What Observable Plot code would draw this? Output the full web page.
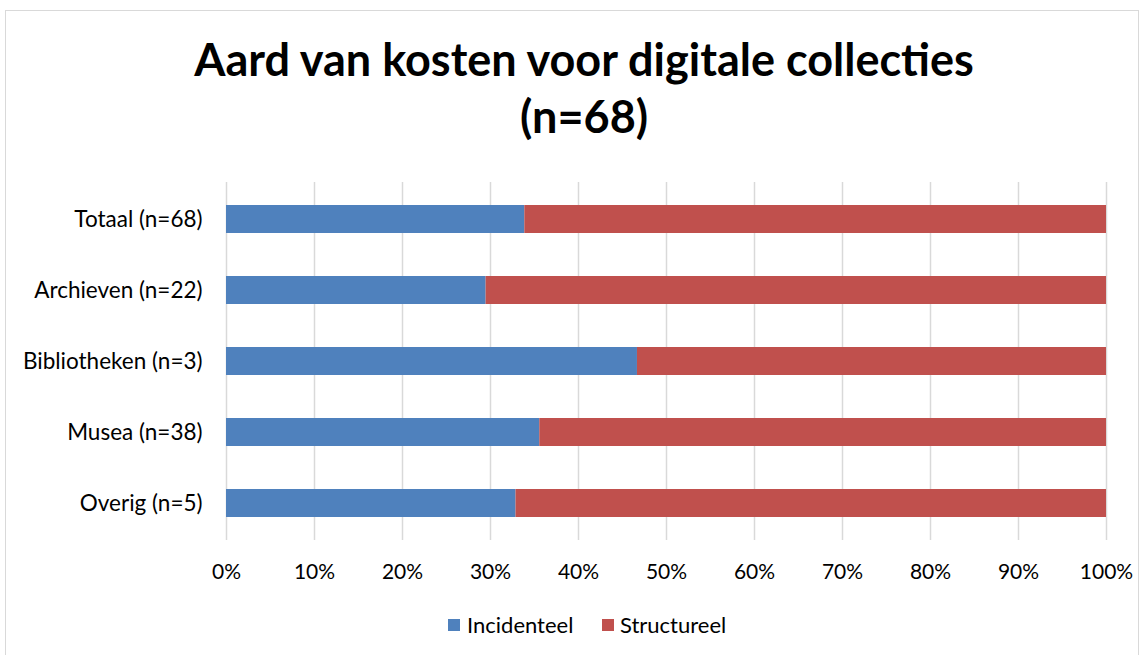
<!DOCTYPE html>
<html><head><meta charset="utf-8">
<script src="https://cdn.jsdelivr.net/npm/d3@7"></script>
<script src="https://cdn.jsdelivr.net/npm/@observablehq/plot@0.6"></script>
<style>
body{margin:0;background:#fff;font-family:Lato, sans-serif;}
#wrap{position:relative;width:1148px;height:655px;overflow:hidden;}
#frame{position:absolute;left:5px;top:10px;width:1134px;height:660px;border:1.5px solid #d9d9d9;box-sizing:border-box;}
#title{position:absolute;left:0;width:1168px;top:31px;text-align:center;font-weight:bold;font-size:45px;line-height:57px;color:#000;}
#chart{position:absolute;left:0;top:170px;}
.sw{position:absolute;width:12px;height:12px;top:619px;}
.lt{position:absolute;top:612px;font-size:22px;line-height:26px;color:#000;}
</style></head>
<body>
<div id="wrap">
<div id="frame"></div>
<div id="title">Aard van kosten voor digitale collecties<br>(n=68)</div>
<div id="chart"></div>
<div id="legend"></div>
</div>
<script>
const categories = ["Totaal (n=68)", "Archieven (n=22)", "Bibliotheken (n=3)", "Musea (n=38)", "Overig (n=5)"];
const seriesNames = ["Incidenteel", "Structureel"];
const seriesColors = ["#4F81BD", "#C0504D"];
const incidenteel = [33.9, 29.5, 46.7, 35.6, 32.9];
const structureel = [66.1, 70.5, 53.3, 64.4, 67.1];
const xTicks = [0, 10, 20, 30, 40, 50, 60, 70, 80, 90, 100];

const rows = [];
categories.forEach((c, i) => {
  rows.push({cat: c, series: seriesNames[0], value: incidenteel[i]});
  rows.push({cat: c, series: seriesNames[1], value: structureel[i]});
});

const chart = Plot.plot({
  width: 1148, height: 420,
  marginTop: 12, marginBottom: 50, marginLeft: 226, marginRight: 42,
  style: {fontFamily: "Lato, sans-serif", fontSize: "21px", color: "#000", background: "transparent"},
  x: {domain: [0, 100], label: null},
  y: {domain: categories, label: null, paddingInner: 0.6, paddingOuter: 0.3},
  color: {domain: seriesNames, range: seriesColors},
  marks: [
    Plot.gridX(xTicks, {stroke: "#d9d9d9", strokeOpacity: 1, strokeWidth: 1.5}),
    Plot.barX(rows, Plot.stackX({x: "value", y: "cat", fill: "series", order: seriesNames})),
    Plot.axisX(xTicks, {tickSize: 0, tickPadding: 24, tickFormat: d => d + "%", label: null, fill: "#000", fontSize: 21}),
    Plot.axisY({tickSize: 0, tickPadding: 24, label: null, fill: "#000", fontSize: 22.5})
  ]
});
document.getElementById("chart").appendChild(chart);

const lg = document.getElementById("legend");
const pos = [[448, 467], [602, 620]];
seriesNames.forEach((s, i) => {
  const sw = document.createElement("div");
  sw.className = "sw"; sw.style.left = pos[i][0] + "px"; sw.style.background = seriesColors[i];
  const t = document.createElement("div");
  t.className = "lt"; t.style.left = pos[i][1] + "px"; t.textContent = s;
  lg.appendChild(sw); lg.appendChild(t);
});
</script>
</body></html>
